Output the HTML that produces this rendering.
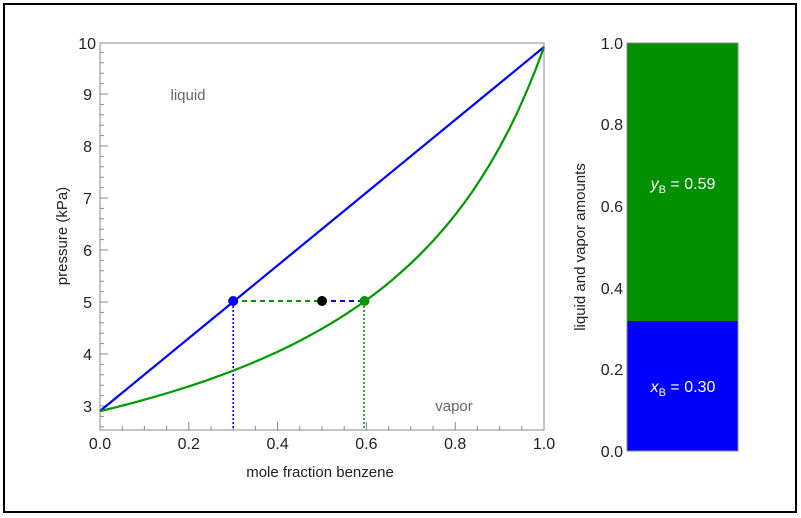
<!DOCTYPE html>
<html><head><style>
html,body{margin:0;padding:0;background:#fff}
svg{display:block}
text{font-family:"Liberation Sans",sans-serif}
</style></head><body>
<svg width="801" height="518" viewBox="0 0 801 518">
<rect x="4" y="4" width="792" height="508" fill="#fff" stroke="#000" stroke-width="2"/>
<rect x="100" y="43" width="444" height="387" fill="none" stroke="#888" stroke-width="1"/>
<g stroke="#888" stroke-width="1">
<line x1="100" y1="430" x2="100" y2="422"/><line x1="188.8" y1="430" x2="188.8" y2="422"/><line x1="277.6" y1="430" x2="277.6" y2="422"/><line x1="366.4" y1="430" x2="366.4" y2="422"/><line x1="455.2" y1="430" x2="455.2" y2="422"/>
<line x1="122.2" y1="430" x2="122.2" y2="426"/><line x1="144.4" y1="430" x2="144.4" y2="426"/><line x1="166.6" y1="430" x2="166.6" y2="426"/>
<line x1="211" y1="430" x2="211" y2="426"/><line x1="233.2" y1="430" x2="233.2" y2="426"/><line x1="255.4" y1="430" x2="255.4" y2="426"/>
<line x1="299.8" y1="430" x2="299.8" y2="426"/><line x1="322" y1="430" x2="322" y2="426"/><line x1="344.2" y1="430" x2="344.2" y2="426"/>
<line x1="388.6" y1="430" x2="388.6" y2="426"/><line x1="410.8" y1="430" x2="410.8" y2="426"/><line x1="433" y1="430" x2="433" y2="426"/>
<line x1="477.4" y1="430" x2="477.4" y2="426"/><line x1="499.6" y1="430" x2="499.6" y2="426"/><line x1="521.8" y1="430" x2="521.8" y2="426"/>
<line x1="100" y1="406" x2="108" y2="406"/><line x1="100" y1="354" x2="108" y2="354"/><line x1="100" y1="302" x2="108" y2="302"/><line x1="100" y1="250" x2="108" y2="250"/><line x1="100" y1="198" x2="108" y2="198"/><line x1="100" y1="146" x2="108" y2="146"/><line x1="100" y1="94" x2="108" y2="94"/>
<line x1="100" y1="416.4" x2="104" y2="416.4"/><line x1="100" y1="426.8" x2="104" y2="426.8"/>
<line x1="100" y1="395.6" x2="104" y2="395.6"/><line x1="100" y1="385.2" x2="104" y2="385.2"/><line x1="100" y1="374.8" x2="104" y2="374.8"/><line x1="100" y1="364.4" x2="104" y2="364.4"/>
<line x1="100" y1="343.6" x2="104" y2="343.6"/><line x1="100" y1="333.2" x2="104" y2="333.2"/><line x1="100" y1="322.8" x2="104" y2="322.8"/><line x1="100" y1="312.4" x2="104" y2="312.4"/>
<line x1="100" y1="291.6" x2="104" y2="291.6"/><line x1="100" y1="281.2" x2="104" y2="281.2"/><line x1="100" y1="270.8" x2="104" y2="270.8"/><line x1="100" y1="260.4" x2="104" y2="260.4"/>
<line x1="100" y1="239.6" x2="104" y2="239.6"/><line x1="100" y1="229.2" x2="104" y2="229.2"/><line x1="100" y1="218.8" x2="104" y2="218.8"/><line x1="100" y1="208.4" x2="104" y2="208.4"/>
<line x1="100" y1="187.6" x2="104" y2="187.6"/><line x1="100" y1="177.2" x2="104" y2="177.2"/><line x1="100" y1="166.8" x2="104" y2="166.8"/><line x1="100" y1="156.4" x2="104" y2="156.4"/>
<line x1="100" y1="135.6" x2="104" y2="135.6"/><line x1="100" y1="125.2" x2="104" y2="125.2"/><line x1="100" y1="114.8" x2="104" y2="114.8"/><line x1="100" y1="104.4" x2="104" y2="104.4"/>
<line x1="100" y1="83.6" x2="104" y2="83.6"/><line x1="100" y1="73.2" x2="104" y2="73.2"/><line x1="100" y1="62.8" x2="104" y2="62.8"/><line x1="100" y1="52.4" x2="104" y2="52.4"/>
</g>
<g font-size="16" fill="#222" text-anchor="end">
<text x="92" y="412">3</text><text x="92" y="360">4</text><text x="92" y="308">5</text><text x="92" y="256">6</text><text x="92" y="204">7</text><text x="92" y="152">8</text><text x="92" y="100">9</text><text x="96" y="49">10</text>
</g>
<g font-size="16" fill="#222" text-anchor="middle">
<text x="100" y="449">0.0</text><text x="188.8" y="449">0.2</text><text x="277.6" y="449">0.4</text><text x="366.4" y="449">0.6</text><text x="455.2" y="449">0.8</text><text x="544" y="449">1.0</text>
</g>
<text x="320" y="477" font-size="15" fill="#222" text-anchor="middle">mole fraction benzene</text>
<text transform="translate(67,236) rotate(-90)" font-size="15" fill="#222" text-anchor="middle">pressure (kPa)</text>
<text x="188" y="100" font-size="15" fill="#666" text-anchor="middle">liquid</text>
<text x="454" y="411" font-size="15" fill="#666" text-anchor="middle">vapor</text>
<line x1="233.2" y1="302" x2="233.2" y2="430" stroke="#00f" stroke-width="1.6" stroke-dasharray="2,2"/>
<line x1="364" y1="302" x2="364" y2="430" stroke="#090" stroke-width="1.6" stroke-dasharray="2,2"/>
<line x1="233" y1="301" x2="322" y2="301" stroke="#090" stroke-width="2" stroke-dasharray="5,4"/>
<line x1="322" y1="301" x2="364" y2="301" stroke="#00f" stroke-width="2" stroke-dasharray="5,4"/>
<line x1="100" y1="411" x2="544" y2="47" stroke="#00f" stroke-width="2.2"/>
<polyline id="v" fill="none" stroke="#090" stroke-width="2.2" points=""/>
<circle cx="233.2" cy="301" r="5" fill="#00f"/>
<circle cx="322" cy="301" r="5" fill="#000"/>
<circle cx="364.5" cy="301" r="5" fill="#090"/>
<rect x="627" y="43" width="111" height="278" fill="#009000"/>
<rect x="627" y="321" width="111" height="130" fill="#0000ff"/>
<rect x="627" y="43" width="111" height="408" fill="none" stroke="#888"/>
<g font-size="16" fill="#222" text-anchor="end">
<text x="623" y="457">0.0</text><text x="623" y="375">0.2</text><text x="623" y="294">0.4</text><text x="623" y="212">0.6</text><text x="623" y="130">0.8</text><text x="623" y="49">1.0</text>
</g>
<text transform="translate(585,247) rotate(-90)" font-size="15" fill="#222" text-anchor="middle">liquid and vapor amounts</text>
<text x="683" y="189" font-size="16" fill="#fff" text-anchor="middle"><tspan font-style="italic">y</tspan><tspan font-size="11" dy="4">B</tspan><tspan dy="-4"> = 0.59</tspan></text>
<text x="683" y="392" font-size="16" fill="#fff" text-anchor="middle"><tspan font-style="italic">x</tspan><tspan font-size="11" dy="4">B</tspan><tspan dy="-4"> = 0.30</tspan></text>
</svg>
<script>
var p=[];for(var i=0;i<=50;i++){var y=i/50;var P=1/(y/9.9+(1-y)/2.9);p.push((100+444*y).toFixed(1)+","+(302-52*(P-5)).toFixed(1));}
document.getElementById("v").setAttribute("points",p.join(" "));
</script>
</body></html>
